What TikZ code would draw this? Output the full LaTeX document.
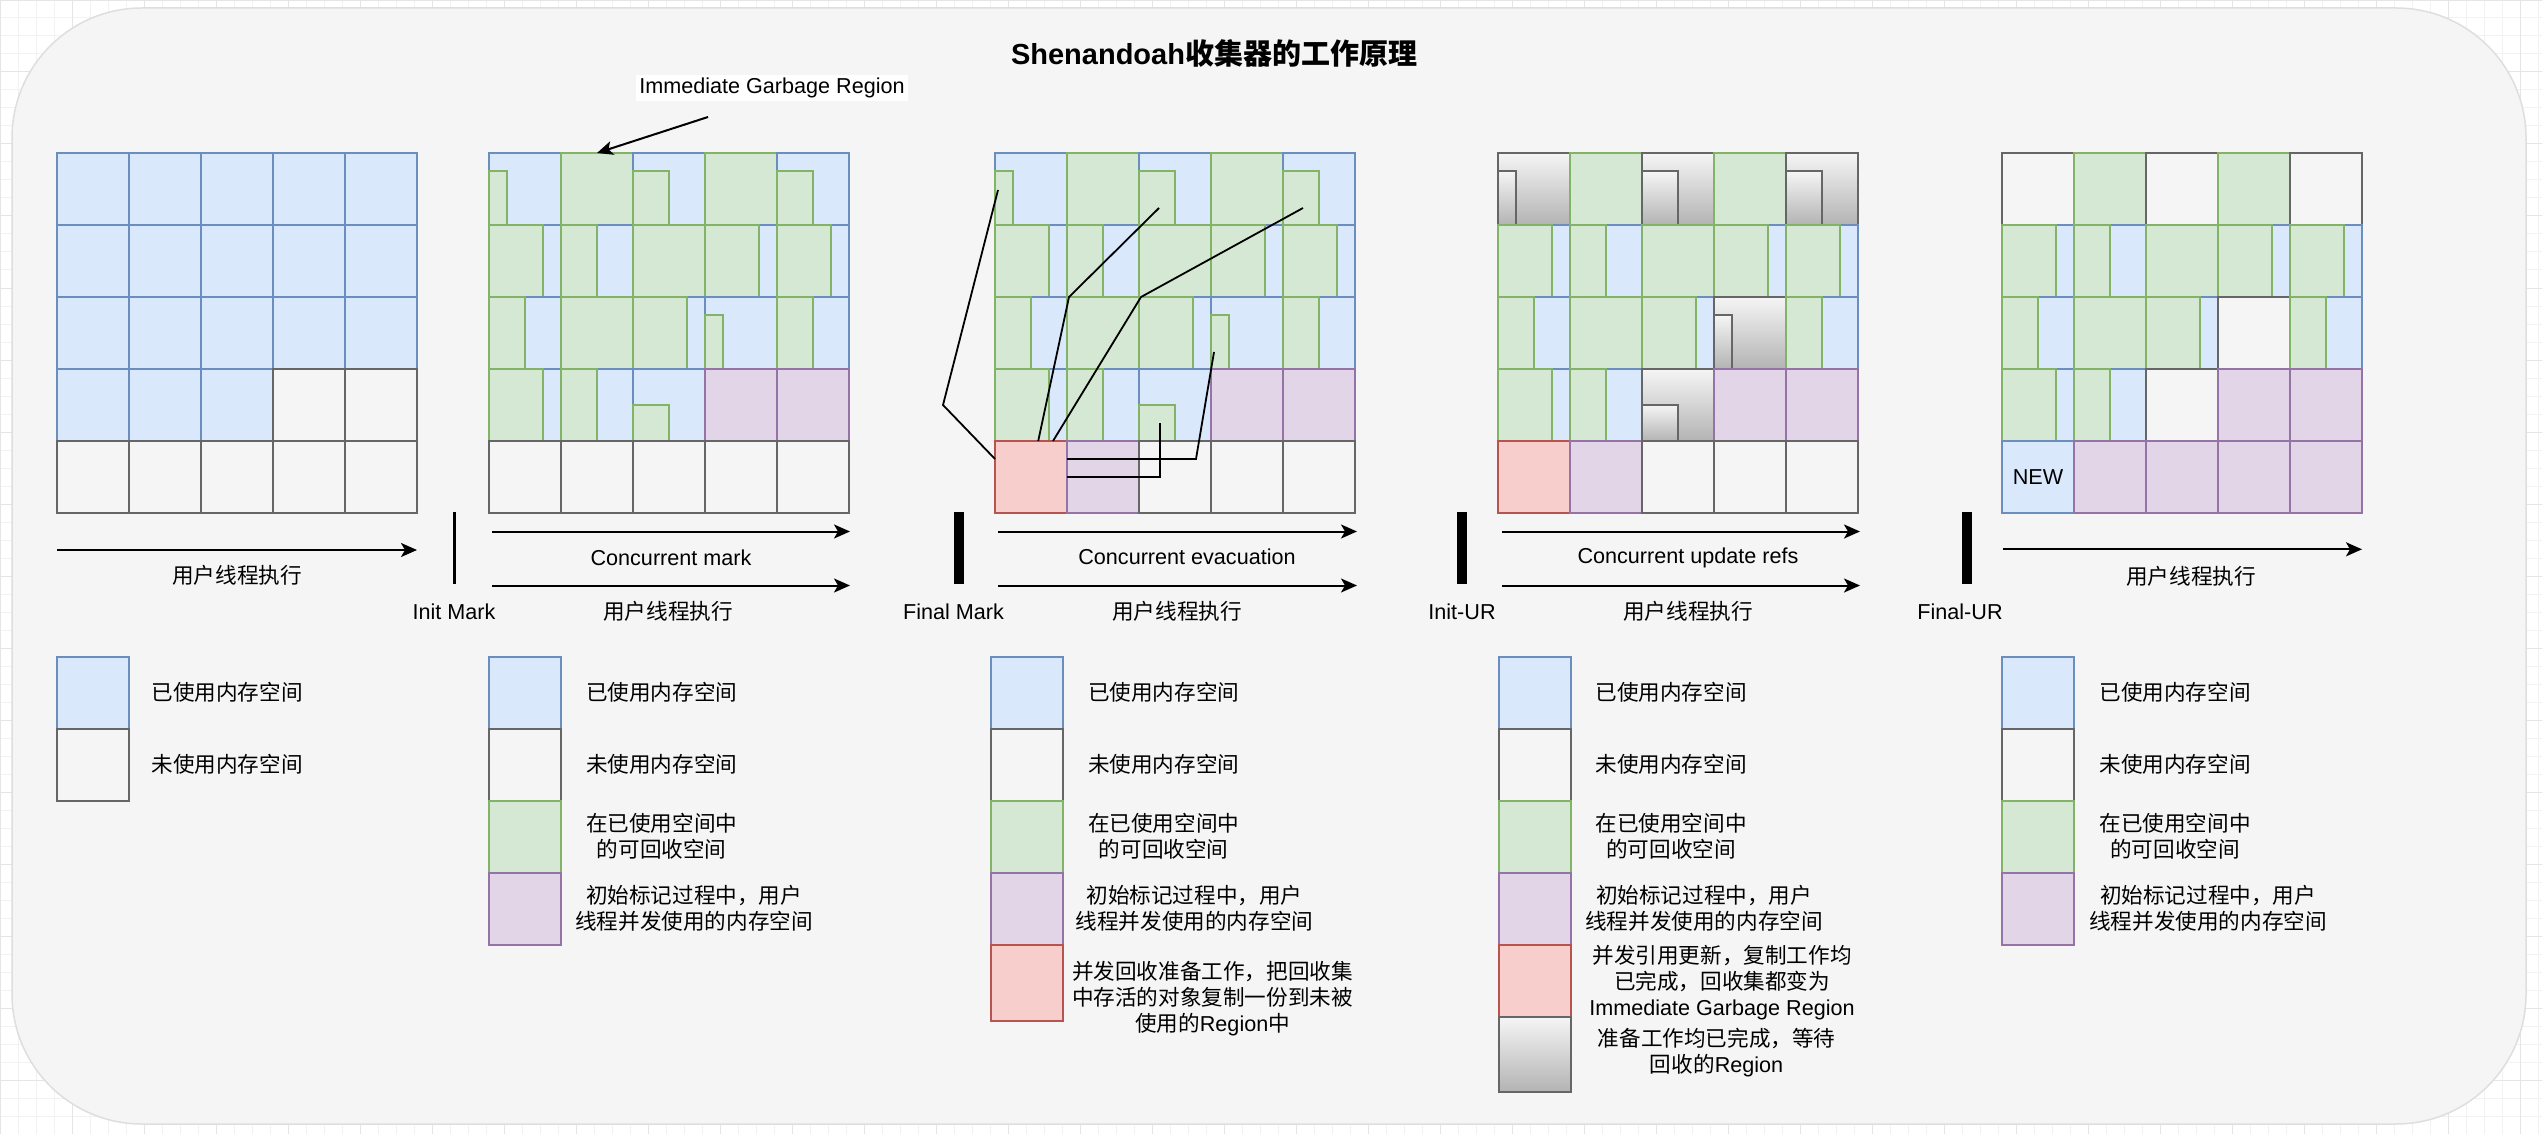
\documentclass[tikz,border=0pt]{standalone}
\usepackage{fontspec}
\setmainfont{Liberation Sans}
\newfontfamily\cjk{Noto Sans CJK SC}
\usepackage{xcolor}
\usepackage{tikz}
\usetikzlibrary{arrows.meta, positioning}
\definecolor{usedfill}{HTML}{DAE8FC}
\definecolor{usedline}{HTML}{6C8EBF}
\definecolor{garbfill}{HTML}{D5E8D4}
\definecolor{garbline}{HTML}{82B366}
\definecolor{concfill}{HTML}{E1D5E7}
\definecolor{concline}{HTML}{9673A6}
\definecolor{evacfill}{HTML}{F8CECC}
\definecolor{evacline}{HTML}{B85450}
\definecolor{freeline}{HTML}{666666}
\definecolor{panelfill}{HTML}{F5F5F5}
\definecolor{waittop}{HTML}{F5F5F5}
\definecolor{waitbot}{HTML}{B3B3B3}
\tikzstyle{region} = [rectangle, anchor=north west, minimum width=36pt, minimum height=36pt, inner sep=0pt, outer sep=0pt, line width=1pt, font=\fontsize{10.8}{13}\selectfont]
\tikzstyle{usedbox} = [region, draw=usedline, fill=usedfill]
\tikzstyle{freebox} = [region, draw=freeline]
\tikzstyle{garbbox} = [region, draw=garbline, fill=garbfill]
\tikzstyle{concbox} = [region, draw=concline, fill=concfill]
\tikzstyle{evacbox} = [region, draw=evacline, fill=evacfill]
\tikzstyle{waitbox} = [region, draw=freeline, top color=waittop, bottom color=waitbot]
\tikzstyle{garbpart} = [line width=1pt, draw=garbline, fill=garbfill]
\tikzstyle{waitpart} = [line width=1pt, draw=freeline, top color=waittop, bottom color=waitbot]
\tikzstyle{pausebar} = [rectangle, fill=black, inner sep=0pt, minimum height=36pt, minimum width=5pt]
\tikzstyle{flow} = [line width=1pt, -{Stealth[length=8pt, width=7pt, inset=2pt]}]
\tikzstyle{link} = [line width=0.9pt]
\tikzstyle{note} = [inner sep=0pt, align=center, font=\fontsize{10.8}{13}\selectfont]
\tikzstyle{cnote} = [note, font=\cjk\fontsize{10.8}{13}\selectfont]
\tikzstyle{headline} = [inner sep=0pt, font=\bfseries\fontsize{14.5}{17}\selectfont]

% one region of the heap: name, left, top
\newcommand{\partregion}[7]{\node[#1] (#3) at (#4,#5) {};
  \draw[#2] (#3.south west) rectangle ++(#6,#7);}
\newcommand{\cellb}[3]{\node[usedbox] (#1) at (#2,#3) {};}
\newcommand{\cellf}[3]{\node[freebox] (#1) at (#2,#3) {};}
\newcommand{\cellg}[3]{\node[garbbox] (#1) at (#2,#3) {};}
\newcommand{\cellp}[3]{\node[concbox] (#1) at (#2,#3) {};}
\newcommand{\cellr}[3]{\node[evacbox] (#1) at (#2,#3) {};}
\newcommand{\celln}[3]{\node[usedbox] (#1) at (#2,#3) {NEW};}
\newcommand{\cella}[3]{\partregion{usedbox}{garbpart}{#1}{#2}{#3}{9pt}{27pt}}
\newcommand{\cellc}[3]{\partregion{usedbox}{garbpart}{#1}{#2}{#3}{18pt}{27pt}}
\newcommand{\celld}[3]{\partregion{usedbox}{garbpart}{#1}{#2}{#3}{27pt}{36pt}}
\newcommand{\celle}[3]{\partregion{usedbox}{garbpart}{#1}{#2}{#3}{18pt}{36pt}}
\newcommand{\cellh}[3]{\partregion{usedbox}{garbpart}{#1}{#2}{#3}{18pt}{18pt}}
\newcommand{\cellA}[3]{\partregion{waitbox}{waitpart}{#1}{#2}{#3}{9pt}{27pt}}
\newcommand{\cellC}[3]{\partregion{waitbox}{waitpart}{#1}{#2}{#3}{18pt}{27pt}}
\newcommand{\cellH}[3]{\partregion{waitbox}{waitpart}{#1}{#2}{#3}{18pt}{18pt}}

% 5x5 heap: name, left, rows top to bottom
\newcommand{\drawheap}[7]{%
  \foreach \rowcodes [count=\rw from 0] in {{#3},{#4},{#5},{#6},{#7}} {
    \foreach \code [count=\cl from 0] in \rowcodes {
      \csname cell\code\endcsname{#1-\rw-\cl}{#2+72*\cl}{153+72*\rw}
    }
  }
}

% legend entry: name, style, box, text position, text
\newcommand{\keyrow}[5]{\node[#2] (#1) at (#3) {};
  \node[cnote] (#1-text) at (#4) {#5};}

\begin{document}
\begin{tikzpicture}[x=0.5pt, y=-0.5pt]
    \useasboundingbox (0,0) rectangle (2542,1134);
    \fill[white] (0,0) rectangle (2542,1134);
    \draw[step=9pt, black!5, line width=0.5pt] (0,0) grid (2542,1134);
    \draw[step=36pt, black!10, line width=0.5pt] (0,0) grid (2542,1134);
    \draw[fill=panelfill, draw=black!13, line width=0.75pt, rounded corners=65pt] (12,8) rectangle (2526,1124);

    \node[headline] (title) at (1214,53) {Shenandoah{\cjk 收集器的工作原理}};

    % heaps
    \drawheap{run}{57}{b,b,b,b,b}{b,b,b,b,b}{b,b,b,b,b}{b,b,b,f,f}{f,f,f,f,f}
    \drawheap{mark}{489}{a,g,c,g,c}{d,e,g,d,d}{e,g,d,a,e}{d,e,h,p,p}{f,f,f,f,f}
    \drawheap{evac}{995}{a,g,c,g,c}{d,e,g,d,d}{e,g,d,a,e}{d,e,h,p,p}{r,p,f,f,f}
    \drawheap{refs}{1498}{A,g,C,g,C}{d,e,g,d,d}{e,g,d,A,e}{d,e,H,p,p}{r,p,f,f,f}
    \drawheap{done}{2002}{f,g,f,g,f}{d,e,g,d,d}{e,g,d,f,e}{d,e,f,p,p}{n,p,p,p,p}

    \node[note, fill=white, inner sep=1.5pt] (igr) at (772,88) {Immediate Garbage Region};
    \coordinate (igr-tail) at (708,117);
    \draw[flow] (igr-tail) -- (mark-0-1.north);

    % copies into the red region
    \coordinate (src1) at (998,190);
    \coordinate (src2) at (1159,208);
    \coordinate (src3) at (1303,208);
    \coordinate (src4) at (1214,352);
    \coordinate (src5) at (1160,423);
    \draw[link] (src1) -- (943,405) -- ([yshift=9pt]evac-4-0.west);
    \draw[link] ([xshift=3.6pt]evac-4-0.north) -- (1069,297) -- (src2);
    \draw[link] ([xshift=11pt]evac-4-0.north) -- (1141,297) -- (src3);
    \draw[link] ([yshift=9pt]evac-4-0.east) -- (1196,459) -- (src4);
    \draw[link] (evac-4-0.east) -- (1160,477) -- (src5);

    % timeline
    \draw[flow] ([yshift=-18.5pt]run-4-0.south west) -- ([yshift=-18.5pt]run-4-4.south east);
    \node[cnote] (run-text) at (237,575.5) {用户线程执行};

    \node[pausebar, minimum width=1.5pt] (initmark) at (454,548) {};
    \node[note, below=9.5pt of initmark] (initmark-text) {Init Mark};

    \draw[flow] ([xshift=1.5pt, yshift=-9.25pt]mark-4-0.south west) -- ([xshift=0.5pt, yshift=-9.25pt]mark-4-4.south east);
    \draw[flow] ([xshift=1.5pt, yshift=-36.25pt]mark-4-0.south west) -- ([xshift=0.5pt, yshift=-36.25pt]mark-4-4.south east);
    \node[note] (mark-text) at (671,557.5) {Concurrent mark};
    \node[cnote] (mark-user) at (668,611) {用户线程执行};

    \node[pausebar] (finalmark) at (959,548) {};
    \node[note, below=9.5pt of finalmark, xshift=-2.75pt] (finalmark-text) {Final Mark};

    \draw[flow] ([xshift=1.5pt, yshift=-9.25pt]evac-4-0.south west) -- ([xshift=1pt, yshift=-9.25pt]evac-4-4.south east);
    \draw[flow] ([xshift=1.5pt, yshift=-36.25pt]evac-4-0.south west) -- ([xshift=1pt, yshift=-36.25pt]evac-4-4.south east);
    \node[note] (evac-text) at (1187,557) {Concurrent evacuation};
    \node[cnote] (evac-user) at (1177,611) {用户线程执行};

    \node[pausebar] (initur) at (1462,548) {};
    \node[note, below=9.5pt of initur] (initur-text) {Init-UR};

    \draw[flow] ([xshift=2pt, yshift=-9.25pt]refs-4-0.south west) -- ([xshift=1pt, yshift=-9.25pt]refs-4-4.south east);
    \draw[flow] ([xshift=2pt, yshift=-36.25pt]refs-4-0.south west) -- ([xshift=1pt, yshift=-36.25pt]refs-4-4.south east);
    \node[note] (refs-text) at (1688,558) {Concurrent update refs};
    \node[cnote] (refs-user) at (1688,611.5) {用户线程执行};

    \node[pausebar] (finalur) at (1967,548) {};
    \node[note, below=9.5pt of finalur, xshift=-3.5pt] (finalur-text) {Final-UR};

    \draw[flow] ([xshift=0.3pt, yshift=-18.15pt]done-4-0.south west) -- ([yshift=-18.15pt]done-4-4.south east);
    \node[cnote] (done-text) at (2191,576) {用户线程执行};

    % legends
    \keyrow{key1-used}{usedbox}{57,657}{227,692}{已使用内存空间}
    \keyrow{key1-free}{freebox}{57,729}{227,764}{未使用内存空间}

    \keyrow{key2-used}{usedbox}{489,657}{661.6,692}{已使用内存空间}
    \keyrow{key2-free}{freebox}{489,729}{661.6,764}{未使用内存空间}
    \keyrow{key2-garb}{garbbox}{489,801}{661.6,836}{在已使用空间中\\的可回收空间}
    \keyrow{key2-conc}{concbox}{489,873}{694,908.5}{初始标记过程中，用户\\线程并发使用的内存空间}

    \keyrow{key3-used}{usedbox}{991,657}{1163.6,692}{已使用内存空间}
    \keyrow{key3-free}{freebox}{991,729}{1163.6,764}{未使用内存空间}
    \keyrow{key3-garb}{garbbox}{991,801}{1163.6,836}{在已使用空间中\\的可回收空间}
    \keyrow{key3-conc}{concbox}{991,873}{1194.5,908.7}{初始标记过程中，用户\\线程并发使用的内存空间}
    \keyrow{key3-evac}{evacbox, minimum height=38pt}{991,945}{1212.5,999}{并发回收准备工作，把回收集\\中存活的对象复制一份到未被\\使用的{\rmfamily Region}中}

    \keyrow{key4-used}{usedbox}{1498.5,657}{1671,692}{已使用内存空间}
    \keyrow{key4-free}{freebox}{1498.5,729}{1671,764}{未使用内存空间}
    \keyrow{key4-garb}{garbbox}{1498.5,801}{1671,836}{在已使用空间中\\的可回收空间}
    \keyrow{key4-conc}{concbox}{1498.5,873}{1704,908}{初始标记过程中，用户\\线程并发使用的内存空间}
    \keyrow{key4-evac}{evacbox}{1498.5,945}{1722,983}{并发引用更新，复制工作均\\已完成，回收集都变为\\{\rmfamily Immediate Garbage Region}}
    \keyrow{key4-wait}{waitbox, minimum height=37.5pt}{1498.5,1017}{1716.6,1052.6}{准备工作均已完成，等待\\回收的{\rmfamily Region}}

    \keyrow{key5-used}{usedbox}{2002,657}{2175,692}{已使用内存空间}
    \keyrow{key5-free}{freebox}{2002,729}{2175,764}{未使用内存空间}
    \keyrow{key5-garb}{garbbox}{2002,801}{2175,836}{在已使用空间中\\的可回收空间}
    \keyrow{key5-conc}{concbox}{2002,873}{2208,908}{初始标记过程中，用户\\线程并发使用的内存空间}
\end{tikzpicture}
\end{document}
